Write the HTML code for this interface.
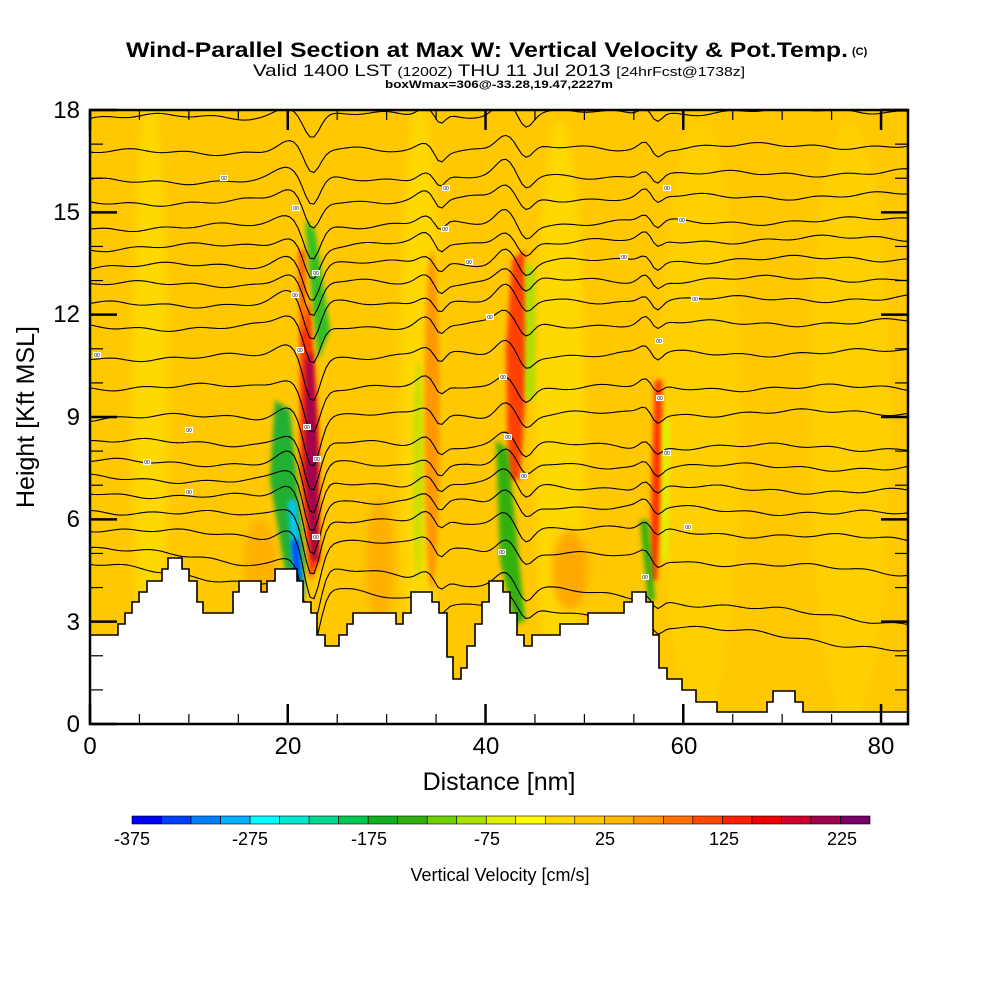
<!DOCTYPE html>
<html><head><meta charset="utf-8"><style>
html,body{margin:0;padding:0;background:#fff;}
svg{display:block;font-family:"Liberation Sans",sans-serif;}
</style></head><body>
<svg id="s" width="1000" height="1000" viewBox="0 0 1000 1000" xmlns="http://www.w3.org/2000/svg">
<defs>
<filter id="b4" x="-50%" y="-20%" width="200%" height="140%"><feGaussianBlur stdDeviation="4"/></filter>
<filter id="b2" x="-50%" y="-20%" width="200%" height="140%"><feGaussianBlur stdDeviation="2.5"/></filter>
<clipPath id="pc"><rect x="90" y="110" width="818" height="614"/></clipPath>
</defs>
<text x="126" y="57" font-size="21" font-weight="bold" textLength="722" lengthAdjust="spacingAndGlyphs">Wind-Parallel Section at Max W: Vertical Velocity &amp; Pot.Temp.</text>
<text x="852" y="55" font-size="11" font-weight="bold">(C)</text>
<text x="253" y="76" font-size="17" textLength="492" lengthAdjust="spacingAndGlyphs">Valid 1400 LST <tspan font-size="13">(1200Z)</tspan> THU 11 Jul 2013 <tspan font-size="13">[24hrFcst@1738z]</tspan></text>
<text x="385" y="88" font-size="11" font-weight="bold" textLength="228" lengthAdjust="spacingAndGlyphs">boxWmax=306@-33.28,19.47,2227m</text>

<g clip-path="url(#pc)">
<rect x="90" y="110" width="818" height="614" fill="#ffc800"/>
<g id="field"></g>
</g>
<g id="cont" clip-path="url(#pc)" fill="none" stroke="#000" stroke-width="1.1"></g>
<path id="terr" fill="#fff" stroke="#000" stroke-width="1.6" clip-path="url(#pc)"/>
<g id="lab"></g>
<rect x="90" y="110" width="818" height="614" fill="none" stroke="#000" stroke-width="2.5"/>
<g id="ticks" stroke="#000"></g>
<g font-size="24" text-anchor="end">
<text x="80" y="732">0</text><text x="80" y="630">3</text><text x="80" y="527">6</text>
<text x="80" y="425">9</text><text x="80" y="322">12</text><text x="80" y="220">15</text><text x="80" y="118">18</text>
</g>
<g font-size="24" text-anchor="middle">
<text x="90" y="754">0</text><text x="288" y="754">20</text><text x="486" y="754">40</text>
<text x="684" y="754">60</text><text x="881" y="754">80</text>
</g>
<text x="499" y="790" font-size="25" text-anchor="middle">Distance [nm]</text>
<text transform="translate(34,417) rotate(-90)" font-size="25" text-anchor="middle">Height [Kft MSL]</text>
<g id="cbar"></g>
<g font-size="18" text-anchor="middle">
<text x="132" y="845">-375</text><text x="250" y="845">-275</text><text x="369" y="845">-175</text>
<text x="487" y="845">-75</text><text x="605" y="845">25</text><text x="724" y="845">125</text><text x="842" y="845">225</text>
</g>
<text x="500" y="881" font-size="18" text-anchor="middle">Vertical Velocity [cm/s]</text>
</svg>
<script>
var NS="http://www.w3.org/2000/svg";
function el(p,t,a){var e=document.createElementNS(NS,t);for(var k in a)e.setAttribute(k,a[k]);document.getElementById(p).appendChild(e);return e;}
var F=[
 ['ellipse',{cx:150,cy:400,rx:18,ry:300,fill:'#ffd800',f:'b4'}],
 ['ellipse',{cx:420,cy:400,rx:20,ry:300,fill:'#ffd800',f:'b4'}],
 ['ellipse',{cx:560,cy:420,rx:25,ry:300,fill:'#ffd800',f:'b4'}],
 ['ellipse',{cx:700,cy:420,rx:40,ry:300,fill:'#ffd000',f:'b4'}],
 ['ellipse',{cx:850,cy:420,rx:40,ry:300,fill:'#ffd000',f:'b4'}],
 ['ellipse',{cx:380,cy:560,rx:14,ry:60,fill:'#ffb000',f:'b4'}],
 ['ellipse',{cx:260,cy:560,rx:16,ry:40,fill:'#ffb000',f:'b4'}],
 ['ellipse',{cx:570,cy:570,rx:18,ry:40,fill:'#ffa800',f:'b4'}],
 ['ellipse',{cx:432,cy:420,rx:8,ry:170,fill:'#ff9800',f:'b2'}],
 ['ellipse',{cx:418,cy:470,rx:5,ry:110,fill:'#c8e000',f:'b2'}],
 ['polygon',{points:'300,330 310,300 318,420 320,560 310,580 300,470',fill:'#ff3000',f:'b2'}],
 ['polygon',{points:'306,360 312,350 318,450 318,560 312,560 305,470',fill:'#a00050',f:'b2'}],
 ['polygon',{points:'298,250 306,250 306,330 300,330',fill:'#ff6000',f:'b2'}],
 ['polygon',{points:'305,220 315,230 330,330 318,360 312,300',fill:'#30c020',f:'b2'}],
 ['polygon',{points:'275,400 290,410 305,560 303,600 290,600 270,480',fill:'#20b030',f:'b2'}],
 ['polygon',{points:'288,500 296,500 303,595 295,598',fill:'#00c8ff',f:'b2'}],
 ['polygon',{points:'292,540 298,540 302,598 297,598',fill:'#0030ff',f:'b2'}],
 ['polygon',{points:'512,260 524,250 530,330 520,480 508,480 506,350',fill:'#ff4000',f:'b2'}],
 ['polygon',{points:'525,260 535,270 535,400 525,400',fill:'#b0e000',f:'b2'}],
 ['polygon',{points:'496,440 508,450 525,620 515,625 500,560',fill:'#30b010',f:'b2'}],
 ['polygon',{points:'655,380 662,380 662,470 657,580 650,580 652,470',fill:'#ff3000',f:'b2'}],
 ['polygon',{points:'662,420 670,420 668,560 662,560',fill:'#e0f000',f:'b2'}],
 ['polygon',{points:'640,520 648,520 655,600 648,600',fill:'#30b010',f:'b2'}]
];
F.forEach(function(d){var a=d[1];a.filter='url(#'+a.f+')';delete a.f;el('field',d[0],a);});
var L=[[118,110],[153,145],[182,172],[203,195],[228,220],[248,238],[267,258],[285,278],[305,298],[328,322],[358,352],[387,388],[418,412],[442,448],[462,468],[478,492],[493,515],[510,540],[528,573],[548,623],[565,650]];
function g(x,c,w){return Math.exp(-((x-c)*(x-c))/(2*w*w));}
L.forEach(function(l,i){
 var d='',t=(l[0]-110)/460;
 for(var x=90;x<=910;x+=4){
  var y=l[0]+(l[1]-l[0])*(x-90)/818;
  var ampA=22+40*t;
  y+=-10*g(x,288,12)+ampA*g(x,312,8);
  y+=-8*g(x,425,8)+10*g(x,440,5);
  y+=-14*g(x,505,9)+13*g(x,526,7);
  y+=-7*g(x,645,6)+8*g(x,657,5);
  y+=2.5*Math.sin(x*0.03+i)+1.5*Math.sin(x*0.11+i*3);
  d+=(x==90?'M':'L')+x+','+y.toFixed(1);
 }
 el('cont','path',{d:d});
});
var T=[[90,635],[118,635],[118,624],[125,624],[125,613],[132,613],[132,602],[139,602],[139,592],[147,592],[147,581],[162,581],[162,569],[168,569],[168,558],[182,558],[182,569],[189,569],[189,581],[197,581],[197,602],[203,602],[203,613],[233,613],[233,592],[239,592],[239,581],[261,581],[261,592],[267,592],[267,581],[275,581],[275,569],[297,569],[297,581],[303,581],[303,602],[311,602],[311,613],[317,613],[317,635],[325,635],[325,646],[339,646],[339,635],[347,635],[347,624],[353,624],[353,613],[396,613],[396,624],[403,624],[403,613],[411,613],[411,592],[432,592],[432,602],[439,602],[439,613],[447,613],[447,657],[453,657],[453,679],[461,679],[461,668],[467,668],[467,646],[475,646],[475,624],[482,624],[482,602],[489,602],[489,581],[503,581],[503,592],[510,592],[510,613],[517,613],[517,635],[524,635],[524,646],[532,646],[532,635],[560,635],[560,624],[588,624],[588,613],[624,613],[624,602],[632,602],[632,592],[646,592],[646,602],[653,602],[653,635],[659,635],[659,668],[667,668],[667,679],[682,679],[682,690],[696,690],[696,702],[717,702],[717,712],[767,712],[767,702],[773,702],[773,691],[795,691],[795,702],[803,702],[803,712],[912,712],[912,730],[86,730]];
document.getElementById('terr').setAttribute('d','M'+T.map(function(p){return p.join(',')}).join('L')+'Z');
[[224,178],[296,208],[446,188],[667,188],[445,229],[682,220],[316,273],[295,295],[469,262],[624,257],[695,299],[97,355],[300,350],[490,317],[659,341],[307,427],[189,430],[317,459],[147,462],[503,377],[660,398],[508,437],[189,492],[524,476],[667,453],[316,537],[502,552],[645,577],[688,527]].forEach(function(p){
 el('lab','rect',{x:p[0]-4,y:p[1]-3,width:8,height:6,fill:'#fff'});
 var t=el('lab','text',{x:p[0],y:p[1]+2,'font-size':5,'text-anchor':'middle'});t.textContent='00';
});
for(var k=0;k<=18;k++){var y=724-k*34.11;var len=(k%3==0)?27:13;var w=(k%3==0)?2.5:1.2;
 el('ticks','line',{x1:90,y1:y,x2:90+len,y2:y,'stroke-width':w});
 el('ticks','line',{x1:908,y1:y,x2:908-len,y2:y,'stroke-width':w});}
for(var n=0;n<=80;n+=5){var x=90+n*9.888;var len=(n%20==0)?20:10;var w=(n%20==0)?2.5:1.2;
 el('ticks','line',{x1:x,y1:724,x2:x,y2:724-len,'stroke-width':w});
 el('ticks','line',{x1:x,y1:110,x2:x,y2:110+len,'stroke-width':w});}
var C=['#0000ff','#0040ff','#0080ff','#00b0ff','#00ffff','#00e8d0','#00d890','#00c850','#10b020','#30b010','#70d000','#a8e000','#e0f000','#ffff00','#ffd800','#ffc800','#ffb800','#ff9800','#ff7000','#ff4800','#ff2000','#f00000','#d00030','#a00050','#780068'];
var w=(870-132)/25;
C.forEach(function(c,i){el('cbar','rect',{x:132+i*w,y:816,width:w,height:8,fill:c,stroke:'#000','stroke-width':0.6});});
</script>
</body></html>
